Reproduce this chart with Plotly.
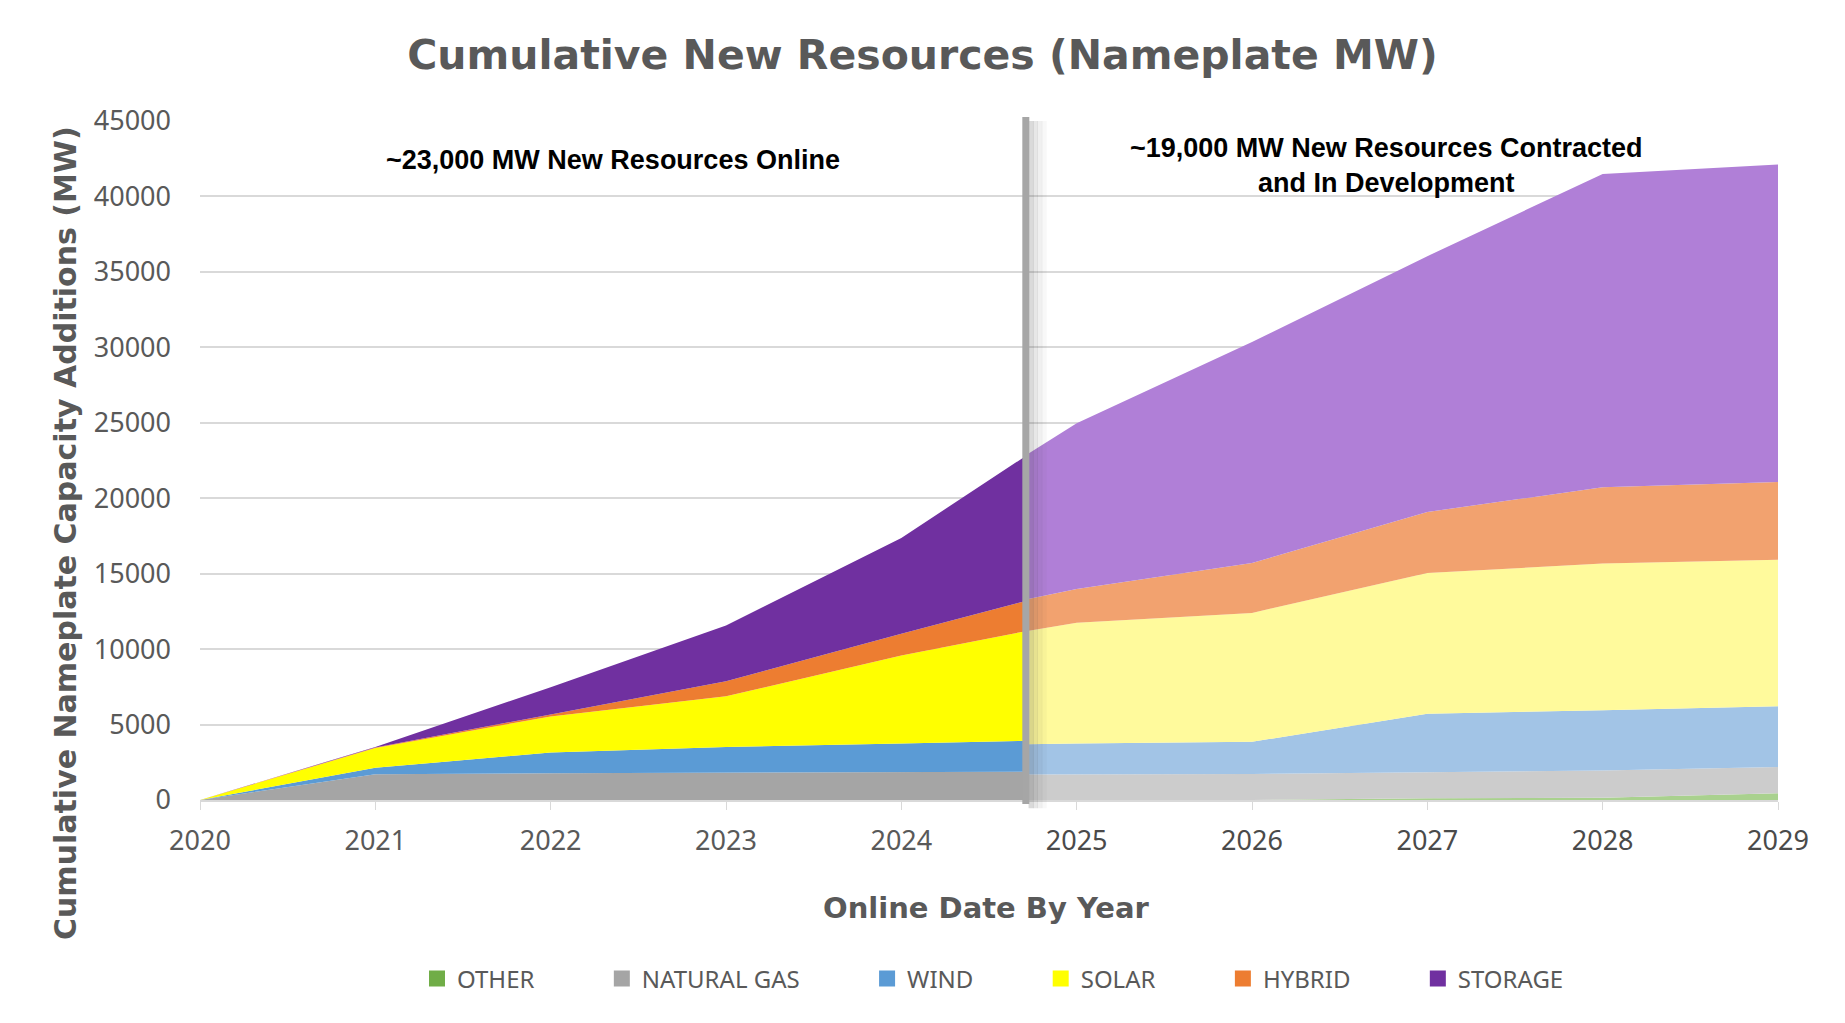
import plotly.graph_objects as go

# ---- data ----
series_names = ["OTHER", "NATURAL GAS", "WIND", "SOLAR", "HYBRID", "STORAGE"]

split_year = 2024.71

# Online resources (2020 .. split), per-category stacked increments (MW)
years_online = [2020, 2021, 2022, 2023, 2024, split_year]
other_online = [0, 0, 0, 0, 0, 0]
gas_online = [0, 1710, 1770, 1820, 1840, 1880]
wind_online = [0, 420, 1380, 1700, 1910, 2040]
solar_online = [0, 1310, 2390, 3350, 5820, 7270]
hybrid_online = [0, 40, 130, 1000, 1440, 2000]
storage_online = [0, 40, 1800, 3700, 6360, 9610]

# Contracted / in development (split .. 2029)
years_dev = [split_year, 2025, 2026, 2027, 2028, 2029]
other_dev = [0, 0, 0, 120, 150, 450]
gas_dev = [1690, 1690, 1730, 1720, 1800, 1730]
wind_dev = [2010, 2060, 2130, 3870, 4000, 4040]
solar_dev = [7480, 7990, 8540, 9340, 9720, 9710]
hybrid_dev = [2100, 2250, 3310, 4040, 5050, 5150]
storage_dev = [9570, 10980, 14640, 16950, 20770, 21040]

tick_years = [2020, 2021, 2022, 2023, 2024, 2025, 2026, 2027, 2028, 2029]
y_ticks = [0, 5000, 10000, 15000, 20000, 25000, 30000, 35000, 40000, 45000]

dark_colors = ["#70ad47", "#a5a5a5", "#5b9bd5", "#ffff00", "#ed7d31", "#7030a0"]
light_colors = ["#a9d18e", "#cccccc", "#a2c4e6", "#fffa9c", "#f2a26f", "#b07fd7"]

online = [other_online, gas_online, wind_online, solar_online, hybrid_online, storage_online]
dev = [other_dev, gas_dev, wind_dev, solar_dev, hybrid_dev, storage_dev]

W, H = 1845, 1023
ML, MR, MT, MB = 200, 67, 121, 223
PW, PH = W - ML - MR, H - MT - MB


def px_x(px):
    return (px - ML) / PW


def px_y(py):
    return (H - MB - py) / PH


fig = go.Figure()

for name, vals, col in zip(series_names, dev, light_colors):
    fig.add_trace(go.Scatter(
        x=years_dev, y=vals, name=name, stackgroup="dev", mode="lines",
        line=dict(width=0, color=col), fillcolor=col, showlegend=False,
    ))

for name, vals, col in zip(series_names, online, dark_colors):
    fig.add_trace(go.Scatter(
        x=years_online, y=vals, name=name, stackgroup="online", mode="lines",
        line=dict(width=0, color=col), fillcolor=col, showlegend=False,
    ))

# legend entries (square swatches)
pad = "\u00a0" * 10
for i, (name, col) in enumerate(zip(series_names, dark_colors)):
    label = name + (pad if i < len(series_names) - 1 else "")
    fig.add_trace(go.Scatter(
        x=[None], y=[None], mode="markers", name=label,
        marker=dict(symbol="square", size=16, color=col), showlegend=True,
    ))

# shadow of the divider
for i, op in enumerate([0.2, 0.13, 0.08, 0.04]):
    fig.add_shape(type="line", xref="x", yref="paper",
                  x0=split_year + 0.03 + i * 0.025, x1=split_year + 0.03 + i * 0.025,
                  y0=-0.012, y1=1.0,
                  line=dict(color=f"rgba(70,70,70,{op})", width=5))
fig.add_shape(type="line", xref="x", yref="paper",
              x0=split_year, x1=split_year, y0=-0.006, y1=1.006,
              line=dict(color="#a6a6a6", width=7))

ticktext = [str(y) if y <= 2024 else f"<span style='color:#4a4a4a'>{y}</span>"
            for y in tick_years]

fig.update_layout(
    width=W, height=H,
    paper_bgcolor="white", plot_bgcolor="white",
    margin=dict(l=ML, r=MR, t=MT, b=MB, autoexpand=False),
    title=dict(text="<b>Cumulative New Resources (Nameplate MW)</b>",
               x=0.5, xanchor="center", y=1 - 55 / H, yanchor="middle",
               font=dict(family="DejaVu Sans", size=41, color="#595959")),
    xaxis=dict(range=[2020, 2029], tickvals=tick_years, ticktext=ticktext,
               showgrid=False, zeroline=False, showline=True, linecolor="#d9d9d9",
               linewidth=2, ticks="outside", ticklen=8, tickcolor="#d9d9d9",
               ticklabelstandoff=8, automargin=False,
               tickfont=dict(family="Noto Sans", size=27, color="#595959")),
    yaxis=dict(range=[0, 45000], tickvals=y_ticks, showgrid=True,
               gridcolor="#d9d9d9", gridwidth=2, zeroline=False, showline=False,
               ticks="", tickformat="d", ticklabelstandoff=28, automargin=False,
               tickfont=dict(family="Noto Sans", size=27, color="#595959")),
    legend=dict(orientation="h", x=px_x(993), xanchor="center",
                y=px_y(979), yanchor="middle",
                font=dict(family="Noto Sans", size=24, color="#595959"),
                traceorder="normal", itemwidth=30, bgcolor="rgba(0,0,0,0)"),
    annotations=[
        dict(text="<b>~23,000 MW New Resources Online</b>", x=px_x(613), y=px_y(160),
             xref="paper", yref="paper", showarrow=False, xanchor="center", yanchor="middle",
             font=dict(family="Liberation Sans", size=27, color="#000000")),
        dict(text="<b>~19,000 MW New Resources Contracted<br>and In Development</b>",
             x=px_x(1386), y=px_y(165), xref="paper", yref="paper", showarrow=False,
             xanchor="center", yanchor="middle",
             font=dict(family="Liberation Sans", size=27, color="#000000")),
        dict(text="<b>Online Date By Year</b>", x=px_x(986), y=px_y(908),
             xref="paper", yref="paper", showarrow=False, xanchor="center", yanchor="middle",
             font=dict(family="DejaVu Sans", size=29, color="#595959")),
        dict(text="<b>Cumulative Nameplate Capacity Additions (MW)</b>",
             x=px_x(65), y=px_y(533), xref="paper", yref="paper", showarrow=False,
             xanchor="center", yanchor="middle", textangle=-90,
             font=dict(family="DejaVu Sans", size=30, color="#595959")),
    ],
)

fig.write_html("out.html", config={"displayModeBar": False},
               post_script="document.body.style.margin='0px';")
